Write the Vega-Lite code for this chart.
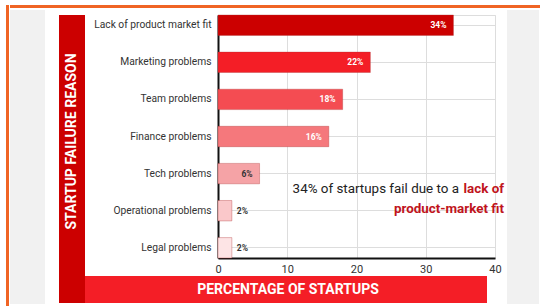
{
  "$schema": "https://vega.github.io/schema/vega-lite/v6.json",
  "background": "white",
  "padding": {"left": 6, "top": 5, "right": 0, "bottom": 0},
  "config": {"font": "Roboto", "view": {"stroke": null}},
  "spacing": 1,
  "hconcat": [
    {
      "width": 3, "height": 301,
      "view": {"fill": "#f06424", "stroke": null},
      "data": {"values": [{}]},
      "mark": {"type": "rect", "color": "#f06424"},
      "encoding": {}
    },
    {
      "spacing": 2,
      "vconcat": [
        {
          "width": 530, "height": 3,
          "view": {"fill": "#f06424", "stroke": null},
          "data": {"values": [{}]},
          "mark": {"type": "rect", "color": "#f06424"},
          "encoding": {}
        },
        {
          "spacing": 2,
          "hconcat": [
            {
              "spacing": 14,
              "hconcat": [
                {
                  "width": 35, "height": 294,
                  "view": {"fill": "#f1f1f1", "stroke": null},
                  "data": {"values": [{}]},
                  "mark": {"type": "rect", "color": "#f1f1f1"},
                  "encoding": {}
                },
                {
                  "spacing": 3,
                  "vconcat": [
                    {
                      "width": 1, "height": 1,
                      "view": {"fill": "#ffffff", "stroke": null},
                      "data": {"values": [{}]},
                      "mark": {"type": "rect", "color": "#ffffff"},
                      "encoding": {}
                    },
                    {
                      "spacing": 0,
                      "vconcat": [
                        {
                          "spacing": 8,
                          "hconcat": [
                            {
                              "width": 26, "height": 261,
                              "view": {"fill": "#cc0000", "stroke": null},
                              "data": {"values": [{"title": "STARTUP FAILURE REASON"}]},
                              "mark": {"type": "text", "angle": 270, "color": "white", "fontWeight": "bold", "fontSize": 14, "dx": 4, "align": "center", "baseline": "middle"},
                              "encoding": {"text": {"field": "title", "type": "nominal"}}
                            },
                            {
                              "width": 277, "height": 243,
                              "view": {"stroke": "#dddddd"},
                              "data": {"values": [
                                {"reason": "Lack of product market fit", "percent": 34, "label": "34%"},
                                {"reason": "Marketing problems", "percent": 22, "label": "22%"},
                                {"reason": "Team problems", "percent": 18, "label": "18%"},
                                {"reason": "Finance problems", "percent": 16, "label": "16%"},
                                {"reason": "Tech problems", "percent": 6, "label": "6%"},
                                {"reason": "Operational problems", "percent": 2, "label": "2%"},
                                {"reason": "Legal problems", "percent": 2, "label": "2%"}
                              ]},
                              "encoding": {
                                "y": {
                                  "field": "reason", "type": "nominal", "sort": null,
                                  "scale": {"domain": ["Lack of product market fit", "Marketing problems", "Team problems", "Finance problems", "Tech problems", "Operational problems", "Legal problems"], "paddingInner": 0.45, "paddingOuter": 0},
                                  "axis": {"title": null, "ticks": false, "labelPadding": 7, "labelFontSize": 10.25, "labelColor": "#333333", "domainColor": "#111111", "domainWidth": 2, "grid": true, "gridColor": "#dddddd", "bandPosition": 0.5}
                                },
                                "x": {
                                  "field": "percent", "type": "quantitative",
                                  "scale": {"domain": [0, 40]},
                                  "axis": {"title": null, "values": [0, 10, 20, 30, 40], "ticks": false, "labelPadding": 5, "labelFontSize": 11, "labelColor": "#333333", "labelFlush": false, "domainColor": "#111111", "domainWidth": 2, "grid": true, "gridColor": "#dddddd"}
                                }
                              },
                              "layer": [
                                {
                                  "mark": {"type": "bar", "stroke": "#b03030", "strokeOpacity": 0.35, "strokeWidth": 1},
                                  "encoding": {
                                    "color": {"field": "reason", "type": "nominal", "legend": null,
                                      "scale": {"domain": ["Lack of product market fit", "Marketing problems", "Team problems", "Finance problems", "Tech problems", "Operational problems", "Legal problems"],
                                                "range": ["#cc0000", "#f41e26", "#f44c52", "#f5787c", "#f5a3a6", "#fac8ca", "#fde4e5"]}}
                                  }
                                },
                                {
                                  "transform": [{"filter": "datum.percent >= 5"}],
                                  "mark": {"type": "text", "align": "right", "dx": -7, "fontSize": 8.5, "fontWeight": "bold", "baseline": "middle"},
                                  "encoding": {
                                    "text": {"field": "label", "type": "nominal"},
                                    "color": {"condition": {"test": "datum.percent > 10", "value": "#ffffff"}, "value": "#333333"}
                                  }
                                },
                                {
                                  "transform": [{"filter": "datum.percent < 5"}],
                                  "mark": {"type": "text", "align": "left", "dx": 5, "fontSize": 8.5, "fontWeight": "bold", "baseline": "middle", "color": "#333333"},
                                  "encoding": {
                                    "text": {"field": "label", "type": "nominal"}
                                  }
                                },
                                {
                                  "transform": [{"filter": "datum.percent == 34"}],
                                  "mark": {"type": "text", "text": "34% of startups fail due to a", "align": "right", "baseline": "middle", "fontSize": 13.4, "color": "#222222", "dy": -22},
                                  "encoding": {
                                    "x": {"datum": 34.8, "type": "quantitative"},
                                    "y": {"datum": "Operational problems", "type": "nominal"}
                                  }
                                },
                                {
                                  "transform": [{"filter": "datum.percent == 34"}],
                                  "mark": {"type": "text", "text": "lack of", "align": "right", "baseline": "middle", "fontSize": 13.4, "fontWeight": "bold", "color": "#c0141c", "dy": -22},
                                  "encoding": {
                                    "x": {"datum": 41.3, "type": "quantitative"},
                                    "y": {"datum": "Operational problems", "type": "nominal"}
                                  }
                                },
                                {
                                  "transform": [{"filter": "datum.percent == 34"}],
                                  "mark": {"type": "text", "text": "product-market fit", "align": "right", "baseline": "middle", "fontSize": 13.4, "fontWeight": "bold", "color": "#c0141c", "dy": -2},
                                  "encoding": {
                                    "x": {"datum": 41.3, "type": "quantitative"},
                                    "y": {"datum": "Operational problems", "type": "nominal"}
                                  }
                                }
                              ]
                            }
                          ]
                        },
                        {
                          "spacing": 0,
                          "hconcat": [
                            {
                              "width": 26, "height": 27,
                              "view": {"fill": "#cc0000", "stroke": null},
                              "data": {"values": [{}]},
                              "mark": {"type": "rect", "color": "#cc0000"},
                              "encoding": {}
                            },
                            {
                              "width": 402, "height": 27,
                              "view": {"fill": "#f41e26", "stroke": null},
                              "data": {"values": [{"title": "PERCENTAGE OF STARTUPS"}]},
                              "mark": {"type": "text", "color": "white", "fontWeight": "bold", "fontSize": 14, "dx": 2, "align": "center", "baseline": "middle"},
                              "encoding": {"text": {"field": "title", "type": "nominal"}}
                            }
                          ]
                        }
                      ]
                    }
                  ]
                }
              ]
            },
            {
              "width": 32, "height": 294,
              "view": {"fill": "#f1f1f1", "stroke": null},
              "data": {"values": [{}]},
              "mark": {"type": "rect", "color": "#f1f1f1"},
              "encoding": {}
            }
          ]
        }
      ]
    }
  ]
}
